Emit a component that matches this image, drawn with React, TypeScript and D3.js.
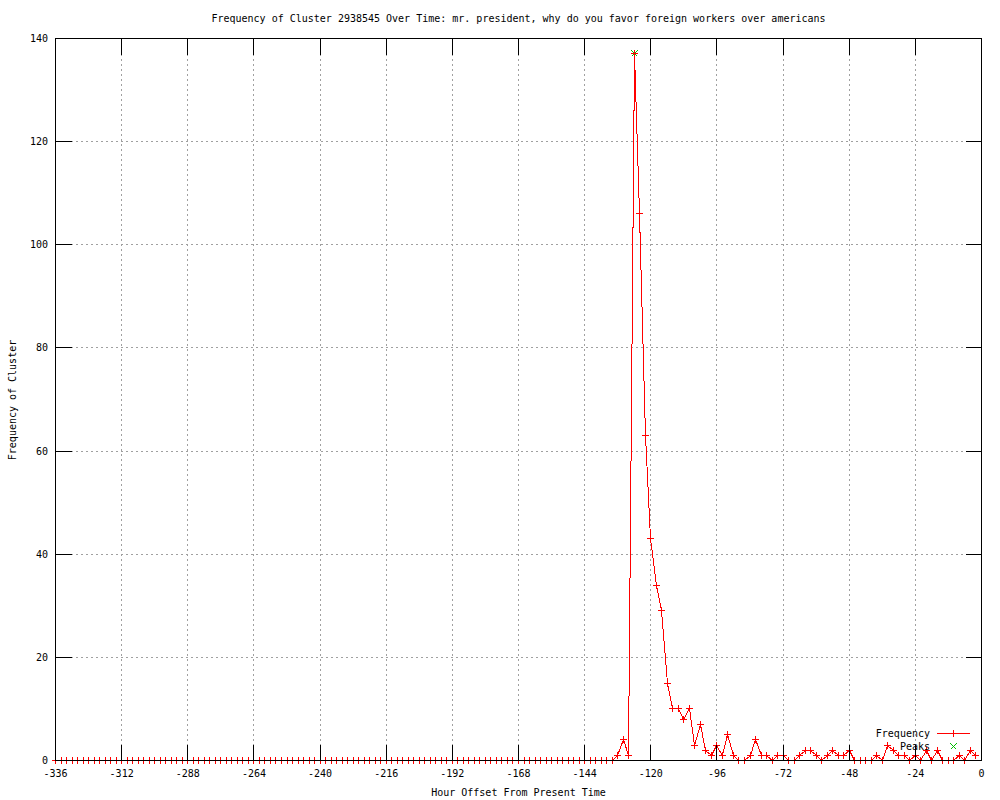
import React from "react";
import * as d3 from "d3";

// ---- data ----
const hours: number[] = d3.range(-336, 0, 2); // -336 .. -2, every 2 hours
const zeroCount = 102; // -336 .. -134
const activeValues: number[] = [
  1, 4, 1, 137, 106, 63, 43, 34, 29, 15, 10, 10, 8, 10, 3, 7, 2, 1, 3, 1, 5, 1,
  0, 0, 1, 4, 1, 1, 0, 1, 1, 0, 0, 1, 2, 2, 1, 0, 1, 2, 1, 1, 2, 0, 0, 0, 0, 1,
  0, 3, 2, 1, 1, 0, 1, 0, 2, 0, 2, 0, 0, 0, 1, 0, 2, 1,
];
const frequency: number[] = [...new Array(zeroCount).fill(0), ...activeValues];
const peakHours: number[] = [-126];
const peakValues: number[] = [137];
const xTicks: number[] = [-336, -312, -288, -264, -240, -216, -192, -168, -144, -120, -96, -72, -48, -24, 0];
const yTicks: number[] = [0, 20, 40, 60, 80, 100, 120, 140];

const TITLE = "Frequency of Cluster 2938545 Over Time: mr. president, why do you favor foreign workers over americans";
const X_LABEL = "Hour Offset From Present Time";
const Y_LABEL = "Frequency of Cluster";

const W = 1000;
const H = 800;
const L = 55.5;
const R = 981.5;
const T = 38.5;
const B = 760.5;
const TICK = 16;
const FONT = "'DejaVu Sans Mono', 'Liberation Mono', monospace";

const snap = (v: number) => Math.round(v - 0.5) + 0.5;

export default function App() {
  const x = d3.scaleLinear().domain([-336, 0]).range([L, R]);
  const y = d3.scaleLinear().domain([0, 140]).range([B, T]);
  const pts = hours.map((h, i) => [snap(x(h)), snap(y(frequency[i]))] as [number, number]);
  const line = d3.line<[number, number]>()(pts) || "";
  const ps = 3;
  const plus = (cx: number, cy: number, k: string, color = "#ff0000") => (
    <path key={k} d={`M${cx - ps - 0.5},${cy}H${cx + ps + 0.5}M${cx},${cy - ps - 0.5}V${cy + ps + 0.5}`} stroke={color} strokeWidth={1} fill="none" shapeRendering="crispEdges" />
  );
  const cross = (cx: number, cy: number, k: string) => (
    <path key={k} d={`M${cx - ps},${cy - ps}L${cx + ps},${cy + ps}M${cx - ps},${cy + ps}L${cx + ps},${cy - ps}`} stroke="#00c000" strokeWidth={1.2} fill="none" shapeRendering="crispEdges" />
  );
  const txt = { fontFamily: FONT, fontSize: 10, fill: "#000" } as const;

  return (
    <svg width={W} height={H} style={{ position: "absolute", left: 0, top: 0, background: "#fff" }}>
      <rect x={0} y={0} width={W} height={H} fill="#fff" />
      {/* grid */}
      <g stroke="#a0a0a0" strokeWidth={1} strokeDasharray="2,3" shapeRendering="crispEdges">
        {xTicks.filter((t) => t !== -336 && t !== 0).map((t) => (
          <line key={"gx" + t} x1={snap(x(t))} x2={snap(x(t))} y1={T} y2={B} />
        ))}
        {yTicks.filter((t) => t !== 0 && t !== 140).map((t) => (
          <line key={"gy" + t} x1={L} x2={R} y1={snap(y(t))} y2={snap(y(t))} />
        ))}
      </g>
      {/* data */}
      {peakHours.map((h, i) => cross(snap(x(h)), snap(y(peakValues[i])), "pk" + i))}
      <path d={line} stroke="#ff0000" strokeWidth={1} fill="none" shapeRendering="crispEdges" />
      {pts.map((p, i) => plus(p[0], p[1], "p" + i))}
      {/* border and ticks */}
      <g stroke="#000" strokeWidth={1} shapeRendering="crispEdges" fill="none">
        <rect x={L} y={T} width={R - L} height={B - T} />
        {xTicks.map((t) => {
          const xx = snap(x(t));
          return (
            <g key={"tx" + t}>
              <line x1={xx} x2={xx} y1={B} y2={B - TICK} />
              <line x1={xx} x2={xx} y1={T} y2={T + TICK} />
            </g>
          );
        })}
        {yTicks.map((t) => {
          const yy = snap(y(t));
          return (
            <g key={"ty" + t}>
              <line x1={L} x2={L + TICK} y1={yy} y2={yy} />
              <line x1={R} x2={R - TICK} y1={yy} y2={yy} />
            </g>
          );
        })}
      </g>
      {/* tick labels */}
      {xTicks.map((t) => (
        <text key={"lx" + t} x={x(t)} y={777} textAnchor="middle" {...txt}>
          {t}
        </text>
      ))}
      {yTicks.map((t) => (
        <text key={"ly" + t} x={48} y={y(t)} dy="0.35em" textAnchor="end" {...txt}>
          {t}
        </text>
      ))}
      {/* titles */}
      <text x={(L + R) / 2} y={22} textAnchor="middle" {...txt}>
        {TITLE}
      </text>
      <text x={(L + R) / 2} y={796} textAnchor="middle" {...txt}>
        {X_LABEL}
      </text>
      <text transform="translate(16,400) rotate(-90)" textAnchor="middle" {...txt}>
        {Y_LABEL}
      </text>
      {/* legend */}
      <text x={930} y={733} dy="0.35em" textAnchor="end" {...txt}>
        Frequency
      </text>
      <line x1={937} x2={970} y1={733.5} y2={733.5} stroke="#ff0000" strokeWidth={1} shapeRendering="crispEdges" />
      {plus(953.5, 733.5, "lg1")}
      <text x={930} y={746} dy="0.35em" textAnchor="end" {...txt}>
        Peaks
      </text>
      {cross(953.5, 746.5, "lg2")}
    </svg>
  );
}
